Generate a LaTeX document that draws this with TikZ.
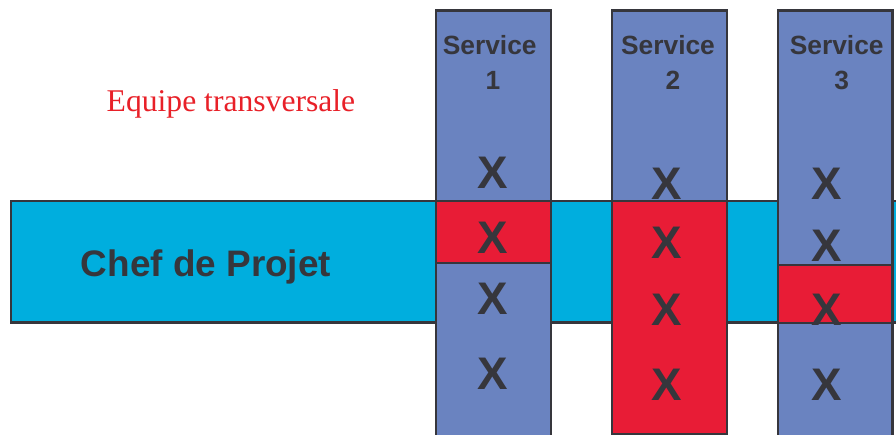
\documentclass[tikz,border=0pt]{standalone}
\usepackage{fontspec}
\setmainfont{Liberation Serif}
\setsansfont{Liberation Sans}
\usepackage{xcolor}
\usetikzlibrary{positioning}
\definecolor{BandCyan}{RGB}{0,174,222}
\definecolor{SvcBlue}{RGB}{106,131,192}
\definecolor{HotRed}{RGB}{232,28,54}
\definecolor{TxtRed}{RGB}{232,32,40}
\definecolor{InkGray}{RGB}{54,54,60}

\begin{document}
\begin{tikzpicture}[x=0.02cm,y=-0.02cm]
	\tikzset{
		box/.style={rectangle, draw=InkGray, line width=1.4pt, anchor=north west, inner sep=0pt},
		band/.style={box, fill=BandCyan, minimum width=18cm, minimum height=2.43cm},
		svc/.style={box, fill=SvcBlue, minimum width=2.3cm, minimum height=9cm},
		hot/.style={box, fill=HotRed, minimum width=2.3cm},
		mk/.style={font=\sffamily\bfseries\fontsize{26}{26}\selectfont, text=InkGray, inner sep=0pt},
		ttl/.style={font=\sffamily\bfseries\fontsize{15}{18}\selectfont, text=InkGray, inner sep=0pt, anchor=base}
	}
	\clip (0,0) rectangle (896,435);
	
	% project manager band
	\node[band] (chef) at (10,200) {};
	\node[font=\sffamily\bfseries\fontsize{21}{24}\selectfont, text=InkGray, inner sep=0pt, anchor=base] (chefl) at (206,276.7) {Chef de Projet};
	\node[font=\fontsize{18}{20}\selectfont, text=TxtRed, inner sep=0pt, anchor=base] (equipe) at (231,111.7) {Equipe transversale};
	
	% services
	\node[svc] (s1) at (435,9.5) {};
	\node[svc] (s2) at (611,9.5) {};
	\node[svc, minimum width=2.29cm] (s3) at (776.7,9.5) {};
	
	\node[ttl] (s1t) at (489.7,55) {Service};
	\node[ttl] (s1n) at (493,90) {1};
	\node[ttl] (s2t) at (668,55) {Service};
	\node[ttl] (s2n) at (673,90) {2};
	\node[ttl] (s3t) at (836.7,55) {Service};
	\node[ttl] (s3n) at (841.7,90) {3};
	
	% marks behind the red parts
	\node[mk] (x1a) at (492.7,172.5) {X};
	\node[mk] (x2a) at (666.7,184) {X};
	\node[mk] (x3a) at (827,183.7) {X};
	\node[mk] (x3b) at (827,245.8) {X};
	
	% red parts
	\node[hot, minimum height=1.24cm] (r1) at (435,200) {};
	\node[hot, minimum height=4.66cm] (r2) at (611,200) {};
	\node[hot, minimum width=2.29cm, minimum height=1.154cm] (r3) at (776.7,264) {};
	
	\node[mk] (x1b) at (492.7,237.5) {X};
	\node[mk] (x1c) at (492.7,298.8) {X};
	\node[mk] (x1d) at (492.7,373.8) {X};
	\node[mk] (x2b) at (666.7,242.5) {X};
	\node[mk] (x2c) at (666.7,309.7) {X};
	\node[mk] (x2d) at (666.7,384.8) {X};
	\node[mk] (x3c) at (827,310) {X};
	\node[mk] (x3d) at (827,384.8) {X};
\end{tikzpicture}
\end{document}
